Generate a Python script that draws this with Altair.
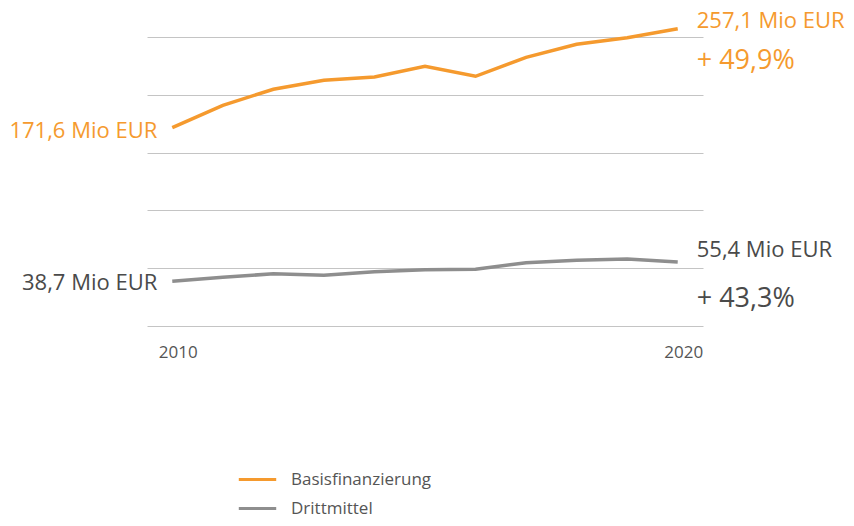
import altair as alt
import pandas as pd

years = list(range(2010, 2021))
basis = [171.6, 190.9, 204.8, 212.5, 215.4, 224.6, 216.0, 232.4, 243.7, 249.4, 257.1]
dritt = [38.7, 42.1, 45.2, 43.8, 47.0, 48.7, 49.0, 54.8, 56.8, 58.0, 55.4]
series = ["Basisfinanzierung", "Drittmittel"]
line_colors = ["#F59A2E", "#8E8E8E"]
text_colors = ["#F59A2E", "#4A4A4A"]
start_labels = ["171,6 Mio EUR", "38,7 Mio EUR"]
end_labels = ["257,1 Mio EUR", "55,4 Mio EUR"]
change_labels = ["+ 49,9%", "+ 43,3%"]
grid_values = [0, 50, 100, 150, 200, 250]
year_ticks = [2010, 2020]

FONT = "Open Sans"

df = pd.DataFrame({
    "year": years * 2,
    "value": basis + dritt,
    "series": [series[0]] * len(years) + [series[1]] * len(years),
})

lab = pd.DataFrame({
    "series": series,
    "start_year": [years[0]] * 2,
    "end_year": [years[-1]] * 2,
    "start": [basis[0], dritt[0]],
    "end": [basis[-1], dritt[-1]],
    "start_label": start_labels,
    "end_label": end_labels,
    "change": change_labels,
})

xscale = alt.Scale(domain=[2009.5, 2020.5], nice=False, zero=False)
yscale = alt.Scale(domain=[0, 250], nice=False)

lines = alt.Chart(df).mark_line(strokeWidth=3.5, clip=False).encode(
    x=alt.X("year:Q", scale=xscale,
            axis=alt.Axis(values=year_ticks, format="d", grid=False, domain=False,
                          ticks=False, labelPadding=18, labelFontSize=17,
                          labelOffset=5.5,
                          labelColor="#555555", labelFont=FONT, title=None)),
    y=alt.Y("value:Q", scale=yscale,
            axis=alt.Axis(values=grid_values, grid=True, gridColor="#C4C4C4",
                          gridWidth=1, labels=False, domain=False, ticks=False,
                          title=None)),
    color=alt.Color("series:N",
                    scale=alt.Scale(domain=series, range=line_colors),
                    legend=alt.Legend(orient="none", legendX=90, legendY=422,
                                      title=None, symbolType="stroke",
                                      symbolSize=1400, symbolStrokeWidth=3,
                                      labelFontSize=17, labelColor="#555555",
                                      labelFont=FONT, labelOffset=13,
                                      rowPadding=-11)),
)

layers = [lines]
dys_end = [-1, -5]
dys_pct = [32, 37]
dys_start = [3, 2]
for i, s in enumerate(series):
    base = alt.Chart(lab).transform_filter(alt.datum.series == s)
    layers.append(base.mark_text(align="right", baseline="middle", dx=-15,
                                 dy=dys_start[i], fontSize=22, font=FONT,
                                 color=text_colors[i]).encode(
        x=alt.X("start_year:Q", scale=xscale),
        y=alt.Y("start:Q", scale=yscale),
        text="start_label:N"))
    layers.append(base.mark_text(align="left", baseline="alphabetic", dx=19,
                                 dy=dys_end[i], fontSize=22, font=FONT,
                                 color=text_colors[i]).encode(
        x=alt.X("end_year:Q", scale=xscale),
        y=alt.Y("end:Q", scale=yscale),
        text="end_label:N"))
    layers.append(base.mark_text(align="left", baseline="middle", dx=19,
                                 dy=dys_pct[i], fontSize=27, font=FONT,
                                 color=text_colors[i]).encode(
        x=alt.X("end_year:Q", scale=xscale),
        y=alt.Y("end:Q", scale=yscale),
        text="change:N"))

chart = alt.layer(*layers).properties(
    width=556, height=289,
    autosize=alt.AutoSizeParams(type="none"),
    padding={"left": 139, "top": 29, "right": 143, "bottom": 192},
).configure(background="white").configure_view(strokeWidth=0, stroke=None)

chart.save("out.html", embed_options={"renderer": "svg", "actions": False})
